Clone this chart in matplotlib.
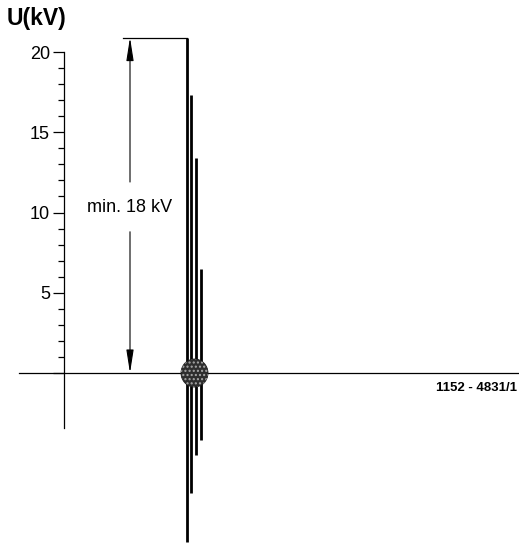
import numpy as np
import matplotlib.pyplot as plt
from matplotlib.patches import Ellipse

plt.rcParams['font.family'] = ['Liberation Sans', 'DejaVu Sans']

# 脉冲位置(时间轴, 任意单位)与幅值(kV)
pulse_t = [187, 191, 196, 201]
pulse_peak = [20.9, 17.3, 13.4, 6.5]
pulse_trough = [-10.5, -7.5, -5.1, -4.2]

major_ticks = [0, 5, 10, 15, 20]
major_labels = ['', '5', '10', '15', '20']
minor_ticks = [v for v in range(1, 20) if v % 5]

u_min = 18        # 标注的最小电压
u_bracket = 20.9  # 标注线高度
arrow_x = 130
spark_t = 194.5

fig = plt.figure(figsize=(5.19, 5.43), dpi=100)
ax = fig.add_axes([0, 0, 1, 1])
ax.set_xlim(0, 519)
ax.set_ylim(-10.59, 23.24)

# 坐标轴
for s in ['top', 'right']:
    ax.spines[s].set_visible(False)
ax.spines['left'].set_position(('data', 64))
ax.spines['left'].set_bounds(-3.4, 20)
ax.spines['bottom'].set_position(('data', 0))
ax.spines['bottom'].set_bounds(19, 519)
for s in ['left', 'bottom']:
    ax.spines[s].set_linewidth(0.9)
ax.set_xticks([])
ax.set_yticks(major_ticks)
ax.set_yticklabels(major_labels)
ax.set_yticks(minor_ticks, minor=True)
ax.tick_params(axis='y', which='major', direction='out', length=8, width=0.9,
               labelsize=13, pad=2)
ax.tick_params(axis='y', which='minor', direction='out', length=4, width=0.9)

ax.text(7, 22.1, 'U(kV)', fontsize=16.5, fontweight='bold', va='center', ha='left')

# 放电脉冲
for t, hi, lo in zip(pulse_t, pulse_peak, pulse_trough):
    ax.plot([t, t], [lo, hi], color='black', lw=2.0, solid_capstyle='butt', zorder=3)

# 放电点
ax.add_patch(Ellipse((spark_t, 0), 27, 28 / 16.05, facecolor='#2e2e2e',
                     edgecolor='#1e1e1e', lw=0.6, zorder=4))
ax.add_patch(Ellipse((spark_t, 0), 27, 28 / 16.05, facecolor='none',
                     edgecolor='#a8a8a8', lw=0, hatch='....', zorder=5))

# 最小电压标注
ax.plot([123, pulse_t[0]], [u_bracket, u_bracket], color='black', lw=0.9)
arrow_style = dict(arrowstyle='-|>,head_length=1.4,head_width=0.22', lw=0.8,
                   color='black', shrinkA=0, shrinkB=0)
ax.annotate('', xy=(arrow_x, u_bracket), xytext=(arrow_x, 11.9), arrowprops=arrow_style)
ax.annotate('', xy=(arrow_x, 0), xytext=(arrow_x, 8.8), arrowprops=arrow_style)
ax.text(arrow_x, 10.3, f'min. {u_min} kV', fontsize=13, ha='center', va='center')

ax.text(517, -0.95, '1152 - 4831/1', fontsize=9.5, fontweight='bold', ha='right', va='center')

fig.savefig('out.png', dpi=100)
